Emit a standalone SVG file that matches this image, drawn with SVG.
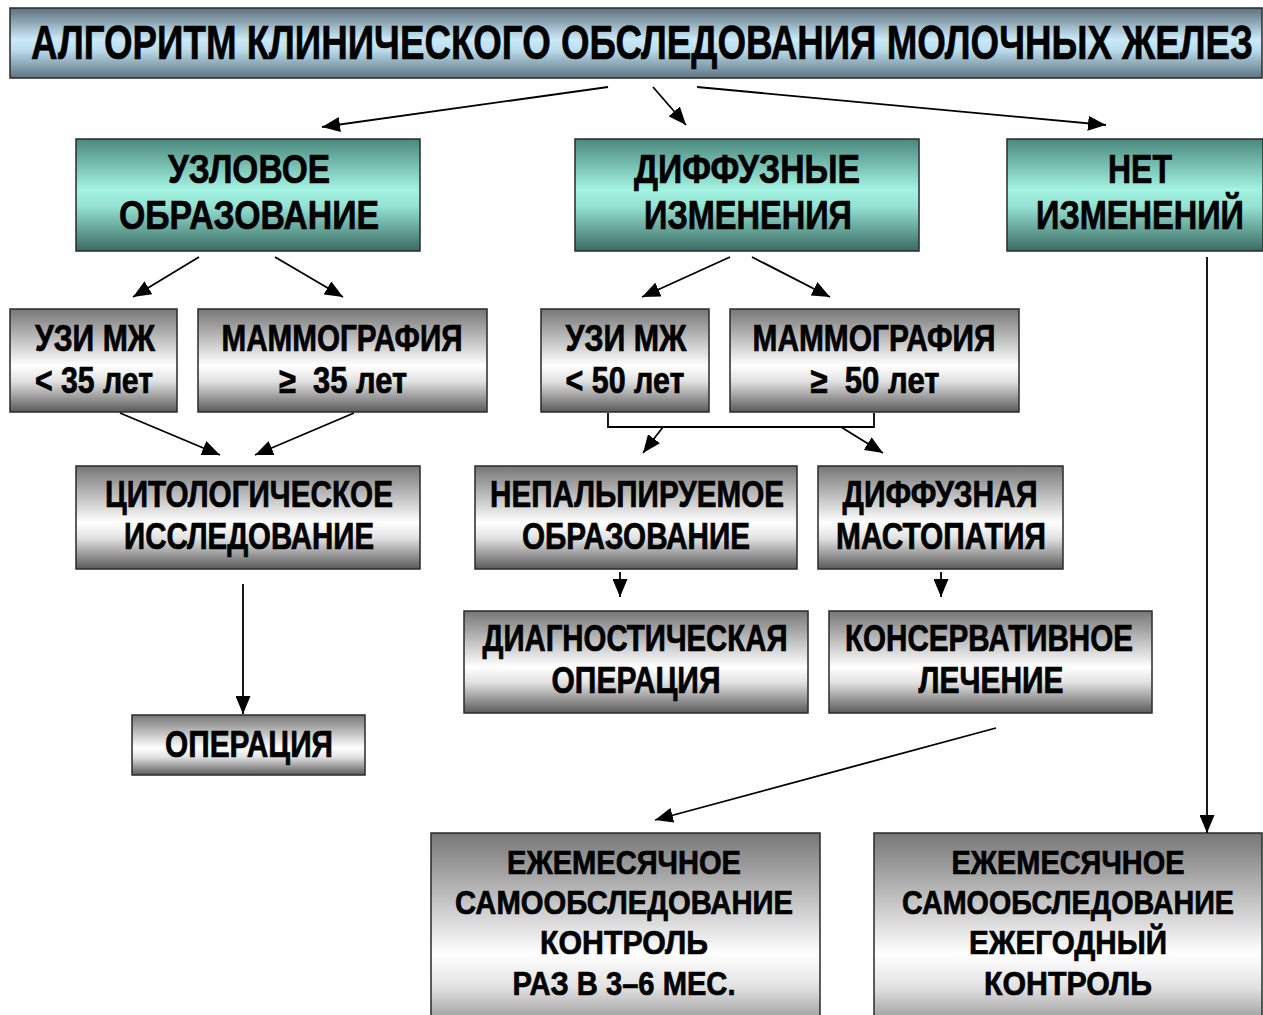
<svg xmlns="http://www.w3.org/2000/svg" width="1263" height="1015" viewBox="0 0 1263 1015">
<defs>
<linearGradient id="gTitle" x1="0" y1="0" x2="0" y2="1">
<stop offset="0" stop-color="#5c707c"/>
<stop offset="0.45" stop-color="#cbe9f8"/>
<stop offset="0.6" stop-color="#bcdcec"/>
<stop offset="1" stop-color="#5e7480"/>
</linearGradient>
<linearGradient id="gTeal" x1="0" y1="0" x2="0" y2="1">
<stop offset="0" stop-color="#4a887c"/>
<stop offset="0.45" stop-color="#a3f2e2"/>
<stop offset="0.6" stop-color="#95e2d2"/>
<stop offset="1" stop-color="#3a6a62"/>
</linearGradient>
<linearGradient id="gGray" x1="0" y1="0" x2="0" y2="1">
<stop offset="0" stop-color="#767676"/>
<stop offset="0.55" stop-color="#ffffff"/>
<stop offset="0.7" stop-color="#e2e2e2"/>
<stop offset="1" stop-color="#5a5a5a"/>
</linearGradient>
<marker id="ah" markerUnits="userSpaceOnUse" markerWidth="18" markerHeight="15" refX="18" refY="7.5" orient="auto">
<path d="M0,0 L18,7.5 L0,15 z" fill="#000"/>
</marker>
</defs>
<style>
.box{stroke:#2a2a2a;stroke-width:1.5}
.t{font-family:"Liberation Sans",Arial,sans-serif;font-weight:bold;fill:#000;stroke:#000;stroke-width:0.7;text-anchor:middle}
.t40{font-size:40px}
.t36{font-size:36px}
.t34{font-size:34px}
.c{fill:none;stroke:#000;stroke-width:1.8}
.a{marker-end:url(#ah)}
</style>
<rect width="1263" height="1015" fill="#fff"/>

<g id="title">
<rect class="box" x="10" y="8" width="1252" height="70" fill="url(#gTitle)"/>
<text class="t" x="642" y="59" font-size="48" textLength="1222" lengthAdjust="spacingAndGlyphs">АЛГОРИТМ КЛИНИЧЕСКОГО ОБСЛЕДОВАНИЯ МОЛОЧНЫХ ЖЕЛЕЗ</text>
</g>

<g id="n-uzlovoe">
<rect class="box" x="76" y="139" width="344" height="112" fill="url(#gTeal)"/>
<text class="t t40" x="249" y="183" textLength="162" lengthAdjust="spacingAndGlyphs">УЗЛОВОЕ</text>
<text class="t t40" x="249" y="229" textLength="260" lengthAdjust="spacingAndGlyphs">ОБРАЗОВАНИЕ</text>
</g>

<g id="n-diffuznye">
<rect class="box" x="575" y="139" width="344" height="112" fill="url(#gTeal)"/>
<text class="t t40" x="747" y="183" textLength="226" lengthAdjust="spacingAndGlyphs">ДИФФУЗНЫЕ</text>
<text class="t t40" x="748" y="229" textLength="208" lengthAdjust="spacingAndGlyphs">ИЗМЕНЕНИЯ</text>
</g>

<g id="n-net">
<rect class="box" x="1007" y="139" width="256" height="112" fill="url(#gTeal)"/>
<text class="t t40" x="1140" y="183" textLength="64" lengthAdjust="spacingAndGlyphs">НЕТ</text>
<text class="t t40" x="1140" y="229" textLength="208" lengthAdjust="spacingAndGlyphs">ИЗМЕНЕНИЙ</text>
</g>

<g id="n-uzi35">
<rect class="box" x="10" y="309" width="167" height="103" fill="url(#gGray)"/>
<text class="t t36" x="95" y="351" textLength="120" lengthAdjust="spacingAndGlyphs">УЗИ МЖ</text>
<text class="t t36" x="94" y="393" textLength="118" lengthAdjust="spacingAndGlyphs">&lt; 35 лет</text>
</g>

<g id="n-mammo35">
<rect class="box" x="198" y="309" width="289" height="103" fill="url(#gGray)"/>
<text class="t t36" x="342" y="351" textLength="241" lengthAdjust="spacingAndGlyphs">МАММОГРАФИЯ</text>
<text class="t t36" x="343" y="393" textLength="128" lengthAdjust="spacingAndGlyphs" xml:space="preserve">≥  35 лет</text>
</g>

<g id="n-uzi50">
<rect class="box" x="541" y="309" width="168" height="103" fill="url(#gGray)"/>
<text class="t t36" x="626" y="351" textLength="121" lengthAdjust="spacingAndGlyphs">УЗИ МЖ</text>
<text class="t t36" x="625" y="393" textLength="119" lengthAdjust="spacingAndGlyphs">&lt; 50 лет</text>
</g>

<g id="n-mammo50">
<rect class="box" x="730" y="309" width="289" height="103" fill="url(#gGray)"/>
<text class="t t36" x="874" y="351" textLength="243" lengthAdjust="spacingAndGlyphs">МАММОГРАФИЯ</text>
<text class="t t36" x="875" y="393" textLength="129" lengthAdjust="spacingAndGlyphs" xml:space="preserve">≥  50 лет</text>
</g>

<g id="n-cito">
<rect class="box" x="76" y="466" width="344" height="103" fill="url(#gGray)"/>
<text class="t t36" x="249" y="507" textLength="288" lengthAdjust="spacingAndGlyphs">ЦИТОЛОГИЧЕСКОЕ</text>
<text class="t t36" x="249" y="549" textLength="250" lengthAdjust="spacingAndGlyphs">ИССЛЕДОВАНИЕ</text>
</g>

<g id="n-operaciya">
<rect class="box" x="132" y="715" width="233" height="60" fill="url(#gGray)"/>
<text class="t t36" x="249" y="757" textLength="168" lengthAdjust="spacingAndGlyphs">ОПЕРАЦИЯ</text>
</g>

<g id="n-nepalp">
<rect class="box" x="475" y="466" width="322" height="103" fill="url(#gGray)"/>
<text class="t t36" x="637" y="507" textLength="294" lengthAdjust="spacingAndGlyphs">НЕПАЛЬПИРУЕМОЕ</text>
<text class="t t36" x="636" y="549" textLength="228" lengthAdjust="spacingAndGlyphs">ОБРАЗОВАНИЕ</text>
</g>

<g id="n-mastopatiya">
<rect class="box" x="818" y="466" width="245" height="103" fill="url(#gGray)"/>
<text class="t t36" x="940" y="507" textLength="195" lengthAdjust="spacingAndGlyphs">ДИФФУЗНАЯ</text>
<text class="t t36" x="941" y="549" textLength="210" lengthAdjust="spacingAndGlyphs">МАСТОПАТИЯ</text>
</g>

<g id="n-diagn">
<rect class="box" x="464" y="611" width="344" height="102" fill="url(#gGray)"/>
<text class="t t36" x="635" y="651" textLength="305" lengthAdjust="spacingAndGlyphs">ДИАГНОСТИЧЕСКАЯ</text>
<text class="t t36" x="636" y="693" textLength="169" lengthAdjust="spacingAndGlyphs">ОПЕРАЦИЯ</text>
</g>

<g id="n-konserv">
<rect class="box" x="829" y="611" width="323" height="102" fill="url(#gGray)"/>
<text class="t t36" x="989" y="651" textLength="288" lengthAdjust="spacingAndGlyphs">КОНСЕРВАТИВНОЕ</text>
<text class="t t36" x="991" y="693" textLength="145" lengthAdjust="spacingAndGlyphs">ЛЕЧЕНИЕ</text>
</g>

<g id="n-control36">
<rect class="box" x="431" y="833" width="389" height="220" fill="url(#gGray)"/>
<text class="t t34" x="624" y="874" textLength="234" lengthAdjust="spacingAndGlyphs">ЕЖЕМЕСЯЧНОЕ</text>
<text class="t t34" x="624" y="914" textLength="338" lengthAdjust="spacingAndGlyphs">САМООБСЛЕДОВАНИЕ</text>
<text class="t t34" x="624" y="954" textLength="168" lengthAdjust="spacingAndGlyphs">КОНТРОЛЬ</text>
<text class="t t34" x="624" y="995" textLength="223" lengthAdjust="spacingAndGlyphs">РАЗ В 3–6 МЕС.</text>
</g>

<g id="n-control-year">
<rect class="box" x="874" y="833" width="388" height="220" fill="url(#gGray)"/>
<text class="t t34" x="1068" y="874" textLength="233" lengthAdjust="spacingAndGlyphs">ЕЖЕМЕСЯЧНОЕ</text>
<text class="t t34" x="1068" y="914" textLength="332" lengthAdjust="spacingAndGlyphs">САМООБСЛЕДОВАНИЕ</text>
<text class="t t34" x="1068" y="954" textLength="198" lengthAdjust="spacingAndGlyphs">ЕЖЕГОДНЫЙ</text>
<text class="t t34" x="1068" y="995" textLength="168" lengthAdjust="spacingAndGlyphs">КОНТРОЛЬ</text>
</g>

<g id="connectors">
<line class="c a" x1="608" y1="87" x2="322" y2="127"/>
<line class="c a" x1="653" y1="87" x2="686" y2="125"/>
<line class="c a" x1="697" y1="87" x2="1106" y2="125"/>
<line class="c a" x1="199" y1="257" x2="133" y2="297"/>
<line class="c a" x1="275" y1="257" x2="343" y2="297"/>
<line class="c a" x1="730" y1="257" x2="642" y2="297"/>
<line class="c a" x1="752" y1="257" x2="830" y2="297"/>
<line class="c a" x1="120" y1="413" x2="220" y2="455"/>
<line class="c a" x1="354" y1="413" x2="255" y2="455"/>
<polyline class="c" points="608,413 608,427 874,427 874,413"/>
<line class="c a" x1="663" y1="427" x2="643" y2="453"/>
<line class="c a" x1="841" y1="427" x2="883" y2="453"/>
<line class="c a" x1="243" y1="584" x2="243" y2="714"/>
<line class="c a" x1="620" y1="572" x2="620" y2="597"/>
<line class="c a" x1="941" y1="572" x2="941" y2="597"/>
<line class="c a" x1="996" y1="728" x2="655" y2="820"/>
<line class="c a" x1="1207" y1="257" x2="1207" y2="833"/>
</g>
</svg>
